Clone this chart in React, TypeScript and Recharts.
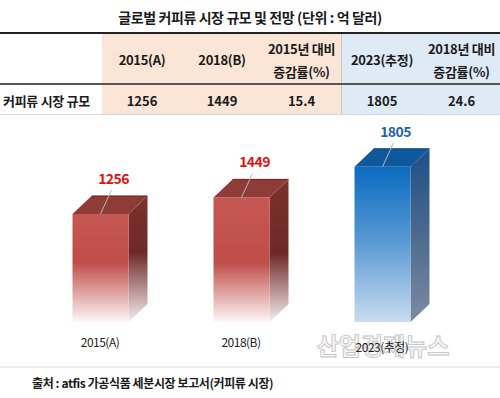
import React from "react";
import { BarChart, Bar, XAxis, YAxis, LabelList } from "recharts";

// chart data
const categories = ["2015(A)", "2018(B)", "2023(추정)"];
const marketSize = [1256, 1449, 1805];
const estimateIndex = 2;

// table text
const title = "글로벌 커피류 시장 규모 및 전망 (단위 : 억 달러)";
const headerLabels = ["2015(A)", "2018(B)", "2015년 대비\n증감률(%)", "2023(추정)", "2018년 대비\n증감률(%)"];
const rowLabel = "커피류 시장 규모";
const rowValues = ["1256", "1449", "15.4", "1805", "24.6"];
const source = "출처 : atfis 가공식품 세분시장 보고서(커피류 시장)";
const watermark = "산업경제뉴스";

const FONT = "'Noto Sans CJK KR', 'Noto Sans', sans-serif";
const COL_EDGES = [102, 182, 262, 341, 423, 500];
const PEACH = "#fbe5d6";
const LIGHT_BLUE = "#deebf7";

const PALETTE = {
  actual: {
    front: [["0", "#c65854"], ["0.5", "#bf4d49"], ["1", "#fdf6f6"]],
    side: [["0", "#7c312e"], ["0.5", "#6e2926"], ["1", "#f3eded"]],
    top: "#8f3b38",
    edge: "#6a1b19",
    label: "#e0120f",
  },
  estimate: {
    front: [["0", "#0a6cc0"], ["0.5", "#5c9bd4"], ["1", "#c9dcf0"]],
    side: [["0", "#1d4f86"], ["0.6", "#4d6a8e"], ["1", "#7c8ba1"]],
    top: "#10589c",
    edge: "#0b3f73",
    label: "#1f63ad",
  },
};

const chartData = categories.map((name, i) => ({ name, value: marketSize[i] }));

const DX = 19;
const DY = 18;

function Box3D(props: any) {
  const { x, y, width: w, height: h, index } = props;
  const c = index === estimateIndex ? PALETTE.estimate : PALETTE.actual;
  const base = y + h;
  const fade = index === estimateIndex ? "0.5" : String(Math.max(0, (h - 60) / h));
  const front = c.front.map(([o, col], k) => [k === 1 ? fade : o, col]);
  const side = c.side.map(([o, col], k) => [k === 1 ? fade : o, col]);
  return (
    <g>
      <defs>
        <linearGradient id={`front-${index}`} x1="0" y1="0" x2="0" y2="1">
          {front.map(([o, col]) => (
            <stop key={o + col} offset={o} stopColor={col} />
          ))}
        </linearGradient>
        <linearGradient id={`side-${index}`} x1="0" y1="0" x2="0" y2="1">
          {side.map(([o, col]) => (
            <stop key={o + col} offset={o} stopColor={col} />
          ))}
        </linearGradient>
      </defs>
      <polygon
        points={`${x + w},${y} ${x + w + DX},${y - DY} ${x + w + DX},${base - DY} ${x + w},${base}`}
        fill={`url(#side-${index})`}
      />
      <polygon
        points={`${x},${y} ${x + DX},${y - DY} ${x + w + DX},${y - DY} ${x + w},${y}`}
        fill={c.top}
      />
      <line x1={x + DX} y1={y - DY} x2={x + w + DX} y2={y - DY} stroke={c.edge} strokeWidth={1} />
      <rect x={x} y={y} width={w} height={h} fill={`url(#front-${index})`} />
    </g>
  );
}

function ValueLabel(props: any) {
  const { x, y, width, value, index } = props;
  const c = index === estimateIndex ? PALETTE.estimate : PALETTE.actual;
  const cx = x + width / 2;
  return (
    <g>
      <line x1={cx} y1={y} x2={cx + 11} y2={y - 24} stroke="#b8b8b8" strokeWidth={1} />
      <text
        x={cx + 13}
        y={y - 36}
        textAnchor="middle"
        dominantBaseline="central"
        fontFamily={FONT}
        fontWeight={700}
        fontSize={14}
        letterSpacing={-0.6}
        fill={c.label}
      >
        {value}
      </text>
    </g>
  );
}

function CategoryTick(props: any) {
  const { x, y, payload, index } = props;
  return (
    <text
      x={x}
      y={y + (index === estimateIndex ? 22 : 17)}
      textAnchor="middle"
      fontFamily={FONT}
      fontSize={12}
      letterSpacing={-0.5}
      fill="#222"
    >
      {payload.value}
    </text>
  );
}

export default function App() {
  return (
    <div
      style={{
        position: "absolute",
        left: 0,
        top: 0,
        width: 500,
        height: 398,
        background: "#fff",
        overflow: "hidden",
        fontFamily: FONT,
        color: "#1a1a1a",
      }}
    >
      <div
        style={{
          position: "absolute",
          top: 6,
          width: 500,
          textAlign: "center",
          fontSize: 14,
          fontWeight: 700,
          letterSpacing: -0.4,
          lineHeight: "22px",
        }}
      >
        {title}
      </div>

      {/* table backgrounds */}
      {COL_EDGES.slice(0, -1).map((left, i) => (
        <div
          key={`bg-${i}`}
          style={{
            position: "absolute",
            left,
            top: 33,
            width: COL_EDGES[i + 1] - left,
            height: 81,
            background: i < 3 ? PEACH : LIGHT_BLUE,
          }}
        />
      ))}
      <div style={{ position: "absolute", left: 341, top: 33, width: 1, height: 81, background: "#c9c9c9" }} />
      <div style={{ position: "absolute", left: 0, top: 32, width: 500, height: 2, background: "#222" }} />
      <div style={{ position: "absolute", left: 0, top: 83, width: 500, height: 1.5, background: "#555" }} />
      <div style={{ position: "absolute", left: 0, top: 114, width: 500, height: 1, background: "#d9d9d9" }} />

      {/* header cells */}
      {headerLabels.map((label, i) => (
        <div
          key={`h-${i}`}
          style={{
            position: "absolute",
            left: COL_EDGES[i],
            top: 36,
            width: COL_EDGES[i + 1] - COL_EDGES[i],
            height: 47,
            display: "flex",
            alignItems: "center",
            justifyContent: "center",
            textAlign: "center",
            whiteSpace: "pre",
            fontSize: 13,
            fontWeight: 700,
            lineHeight: "23px",
            letterSpacing: -0.3,
          }}
        >
          {label}
        </div>
      ))}

      {/* data row */}
      <div
        style={{
          position: "absolute",
          left: 3,
          top: 86,
          height: 28,
          display: "flex",
          alignItems: "center",
          fontSize: 13,
          fontWeight: 700,
          letterSpacing: -0.3,
        }}
      >
        {rowLabel}
      </div>
      {rowValues.map((v, i) => (
        <div
          key={`v-${i}`}
          style={{
            position: "absolute",
            left: COL_EDGES[i],
            top: 86,
            width: COL_EDGES[i + 1] - COL_EDGES[i],
            height: 28,
            display: "flex",
            alignItems: "center",
            justifyContent: "center",
            fontSize: 13,
            fontWeight: 700,
          }}
        >
          {v}
        </div>
      ))}

      <svg width={500} height={398} style={{ position: "absolute", left: 0, top: 0 }}>
        <text
          x={383}
          y={355}
          textAnchor="middle"
          fontFamily={FONT}
          fontWeight={700}
          fontSize={24}
          fill="#f7f7f7"
          stroke="#c4c4c4"
          strokeWidth={0.9}
        >
          {watermark}
        </text>
      </svg>

      <div style={{ position: "absolute", left: 0, top: 0 }}>
        <BarChart
          width={500}
          height={398}
          data={chartData}
          margin={{ top: 150, right: 47.5, bottom: 46, left: 29.5 }}
        >
          <XAxis
            dataKey="name"
            height={30}
            axisLine={false}
            tickLine={false}
            tick={<CategoryTick />}
            interval={0}
          />
          <YAxis hide domain={[0, 2000]} />
          <Bar dataKey="value" barSize={56} shape={<Box3D />} isAnimationActive={false}>
            <LabelList dataKey="value" content={<ValueLabel />} />
          </Bar>
        </BarChart>
      </div>

      <div style={{ position: "absolute", left: 0, top: 366, width: 500, height: 2, background: "#ececec" }} />
      <div
        style={{
          position: "absolute",
          left: 32,
          top: 374,
          fontSize: 12,
          fontWeight: 700,
          letterSpacing: -0.4,
          lineHeight: "18px",
        }}
      >
        {source}
      </div>
    </div>
  );
}
